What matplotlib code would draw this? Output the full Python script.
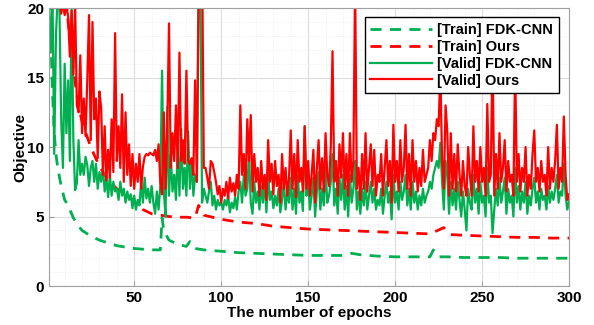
import matplotlib
matplotlib.use("Agg")
import matplotlib.pyplot as plt
from matplotlib.ticker import MultipleLocator

# validation objective per epoch (epochs 1..300)
valid_ours = [
    26, 25, 24, 23, 24, 22, 21, 19.6, 20.4, 19.5,
    20.2, 19.4, 16.5, 19.8, 15.2, 20.5, 13.0, 12.5, 16.6, 11.0,
    13.5, 10.8, 14.8, 19.5, 10.5, 19.0, 12.0, 13.5, 9.2, 14.0,
    12.8, 8.0, 11.5, 7.6, 9.8, 7.8, 12.0, 8.2, 18.2, 9.0,
    11.5, 8.5, 13.8, 7.5, 12.5, 8.0, 10.2, 7.2, 9.5, 7.0,
    8.8, 7.5, 9.5, 7.0, 8.6, 9.3, 9.5, 9.4, 9.6, 9.5,
    9.4, 9.8, 9.0, 10.2, 7.5, 6.6, 12.5, 7.0, 11.5, 18.9,
    8.5, 11.0, 9.0, 13.0, 8.5, 16.8, 9.0, 10.5, 8.8, 15.5,
    9.0, 8.8, 9.2, 8.0, 14.8, 7.5, 20.5, 24.0, 24.0, 8.5,
    8.5, 7.8, 7.0, 9.0, 8.8, 8.2, 7.5, 6.6, 7.2, 6.0,
    7.0, 6.5, 7.5, 6.3, 7.8, 6.8, 7.4, 6.5, 8.0, 7.0,
    13.0, 8.0, 9.5, 7.0, 12.0, 9.0, 12.3, 6.8, 9.5, 7.5,
    8.5, 6.5, 9.0, 7.0, 8.0, 6.2, 10.5, 7.5, 8.8, 6.6,
    9.0, 7.2, 8.0, 6.0, 9.5, 7.0, 8.5, 6.5, 7.8, 11.2,
    7.0, 9.5, 6.4, 10.5, 7.5, 8.5, 6.8, 11.5, 7.0, 9.0,
    6.5, 8.0, 9.8, 6.0, 8.5, 10.5, 7.0, 9.2, 6.8, 11.0,
    8.0, 7.2, 10.0, 16.9, 7.5, 9.0, 6.5, 10.2, 7.8, 11.0,
    7.0, 9.5, 6.5, 11.0, 7.5, 9.0, 22.0, 7.0, 8.5, 6.2,
    9.5, 7.0, 11.0, 6.8, 8.5, 10.2, 7.2, 9.8, 6.5, 8.0,
    7.5, 9.5, 6.5, 8.5, 10.5, 7.2, 9.0, 6.0, 11.6, 7.5,
    9.0, 6.8, 10.5, 7.5, 8.5, 11.6, 7.0, 9.5, 6.5, 10.5,
    7.5, 9.0, 6.8, 8.5, 7.2, 9.8, 7.5, 8.0, 8.5, 10.5,
    9.0, 11.0, 10.5, 12.0, 11.5, 15.5, 9.0, 7.0, 13.0, 11.1,
    6.5, 11.0, 7.0, 9.5, 6.8, 10.2, 8.0, 6.5, 9.0, 7.2,
    6.5, 10.0, 8.0, 6.5, 11.5, 7.5, 9.0, 6.8, 10.0, 7.5,
    8.5, 6.5, 13.1, 7.5, 8.0, 17.0, 6.5, 9.5, 7.0, 11.0,
    7.5, 8.5, 10.5, 6.8, 9.0, 7.5, 8.0, 6.5, 16.0, 7.5,
    9.5, 6.8, 8.5, 7.5, 10.0, 6.5, 8.0, 7.0, 9.5, 11.2,
    7.5, 8.5, 6.8, 9.0, 7.5, 8.0, 6.5, 10.0, 7.0, 8.5,
    7.5, 9.0, 11.6, 7.0, 8.5, 7.5, 12.2, 8.0, 6.2, 6.6,
]
valid_fdk = [
    20.5, 16.8, 21, 9.5, 18, 21, 20, 12, 8.5, 16,
    11, 14.8, 9, 20.3, 10.5, 6.9, 7.4, 10.5, 8.0, 8.8,
    8.0, 9.3, 8.7, 7.2, 8.5, 9.0, 7.5, 8.8, 7.0, 8.2,
    7.5, 8.5, 6.8, 7.8, 6.4, 8.0, 6.5, 7.5, 6.8, 7.0,
    6.2, 7.5, 6.5, 7.0, 6.0, 6.8, 6.2, 6.6, 5.6, 6.5,
    5.5, 6.2, 5.8, 7.5, 6.0, 7.8, 6.3, 7.0, 6.0, 7.2,
    6.0, 5.2, 6.8, 5.5, 7.2, 15.5, 6.8, 5.0, 12.9, 6.5,
    9.5, 6.8, 8.0, 6.2, 10.0, 6.5, 11.3, 7.0, 8.5, 6.5,
    11.1, 7.0, 9.0, 6.5, 8.0, 7.5, 23.0, 22.0, 6.0, 7.0,
    6.5, 6.0, 6.8, 7.5, 5.8, 6.5, 5.5, 6.2, 5.8, 6.0,
    5.5, 6.2, 5.8, 6.5, 5.3, 6.0, 5.6, 6.4, 5.5, 6.8,
    7.5, 6.0, 8.0, 6.5, 7.0, 9.5, 6.0, 5.2, 7.5, 6.0,
    6.8, 5.5, 7.2, 6.0, 7.5, 5.3, 8.0, 6.2, 6.8, 5.6,
    6.5, 5.8, 7.0, 5.3, 6.2, 7.5, 5.5, 6.8, 6.0, 7.8,
    5.5, 7.0, 5.2, 8.0, 6.0, 6.8, 5.4, 11.5, 6.5, 7.5,
    5.5, 6.5, 7.8, 5.0, 6.8, 8.2, 5.5, 7.0, 5.8, 8.5,
    6.0, 6.5, 7.5, 9.5, 5.8, 7.0, 5.2, 7.8, 6.2, 8.0,
    5.5, 7.2, 5.0, 8.0, 6.0, 7.0, 9.0, 5.5, 6.8, 5.2,
    7.0, 5.8, 7.5, 5.5, 6.5, 7.5, 6.0, 7.0, 5.5, 6.2,
    5.8, 7.0, 5.2, 6.5, 7.5, 6.0, 6.8, 4.8, 8.0, 6.0,
    6.8, 5.5, 7.5, 6.2, 6.8, 8.0, 5.8, 7.0, 5.5, 7.5,
    6.0, 6.8, 5.5, 6.5, 5.8, 7.0, 6.0, 6.5, 6.8, 7.5,
    7.0, 8.0, 8.5, 9.0, 8.5, 10.3, 7.5, 5.5, 9.0, 8.0,
    5.2, 7.5, 5.8, 7.0, 5.5, 7.5, 6.2, 5.0, 6.8, 5.5,
    4.0, 7.0, 6.0, 5.5, 8.0, 6.0, 7.0, 5.2, 7.5, 6.0,
    6.5, 5.0, 8.5, 6.0, 6.5, 3.8, 5.5, 7.0, 5.8, 7.8,
    6.0, 6.8, 7.8, 5.2, 7.0, 6.0, 6.5, 5.0, 8.5, 6.0,
    7.2, 5.5, 6.8, 6.0, 7.5, 5.2, 6.5, 5.8, 7.0, 7.8,
    6.0, 6.8, 5.5, 7.0, 6.2, 6.5, 5.5, 7.2, 6.0, 6.8,
    6.2, 7.0, 8.0, 6.0, 6.8, 6.5, 8.8, 6.5, 5.5, 6.1,
]
valid_epochs = list(range(1, len(valid_ours) + 1))

# training objective, read at selected epochs
train_fdk_epochs = [1, 2, 3, 4, 5, 6, 8, 10, 12, 15, 18, 20, 25, 30, 35, 40, 45, 50,
                    55, 60, 65, 66, 67, 70, 75, 80, 82, 85, 90, 100, 110, 120, 130,
                    140, 150, 160, 170, 175, 180, 190, 200, 210, 220, 222, 225, 230,
                    240, 250, 260, 270, 280, 290, 300]
train_fdk = [22, 18, 14, 11, 9.5, 8.5, 7.2, 6.2, 5.8, 4.9, 4.3, 4.0, 3.6, 3.3, 3.1, 2.9,
             2.8, 2.7, 2.65, 2.6, 2.6, 4.9, 4.0, 3.3, 3.0, 2.85, 3.2, 2.7, 2.6, 2.5, 2.4,
             2.35, 2.3, 2.25, 2.2, 2.2, 2.2, 2.35, 2.25, 2.15, 2.1, 2.1, 2.1, 2.6, 2.1,
             2.1, 2.05, 2.05, 2.05, 2.0, 2.0, 2.0, 2.0]
train_ours_epochs = [1, 5, 10, 12, 15, 18, 20, 25, 30, 35, 40, 45, 50, 55, 60, 65, 70,
                     75, 80, 85, 87, 90, 100, 110, 120, 130, 140, 150, 160, 170, 180,
                     190, 200, 210, 220, 228, 232, 240, 250, 260, 270, 280, 290, 300]
train_ours = [35, 28, 22, 19, 15.5, 13, 11.8, 10, 8.6, 7.6, 7.0, 6.6, 6.1, 5.5, 5.2,
              5.1, 5.0, 4.95, 4.95, 4.9, 5.8, 5.1, 4.8, 4.6, 4.5, 4.3, 4.2, 4.1, 4.05,
              4.0, 3.95, 3.9, 3.85, 3.8, 3.75, 4.2, 3.7, 3.65, 3.6, 3.55, 3.5, 3.5,
              3.45, 3.45]

GREEN = "#00b050"
RED = "#ff0000"

plt.rcParams["font.family"] = ["Liberation Sans", "DejaVu Sans"]
plt.rcParams["font.weight"] = "bold"

fig = plt.figure(figsize=(5.94, 3.25), dpi=100)
ax = fig.add_axes([0.0825, 0.12, 0.8755, 0.855])

ax.plot(train_fdk_epochs, train_fdk, color=GREEN, lw=2, ls=(0, (4, 3)), label="[Train] FDK-CNN")
ax.plot(train_ours_epochs, train_ours, color=RED, lw=2, ls=(0, (4, 3)), label="[Train] Ours")
ax.plot(valid_epochs, valid_fdk, color=GREEN, lw=1.6, label="[Valid] FDK-CNN")
ax.plot(valid_epochs, valid_ours, color=RED, lw=1.6, label="[Valid] Ours")

ax.set_xlim(1, 300)
ax.set_ylim(0, 20)
ax.xaxis.set_major_locator(MultipleLocator(50))
ax.xaxis.set_minor_locator(MultipleLocator(10))
ax.yaxis.set_major_locator(MultipleLocator(5))
ax.yaxis.set_minor_locator(MultipleLocator(1))
ax.grid(which="major", color="#dcdcdc", lw=0.8)
ax.grid(which="minor", color="#ececec", lw=0.6, ls=":")
ax.set_axisbelow(True)
ax.tick_params(which="both", direction="in", labelsize=11, color="#a0a0a0")
ax.tick_params(which="minor", length=0)
for s in ax.spines.values():
    s.set_color("#a0a0a0")
for lab in ax.get_xticklabels() + ax.get_yticklabels():
    lab.set_fontweight("bold")

ax.set_xlabel("The number of epochs", fontsize=11, fontweight="bold", labelpad=1)
ax.set_ylabel("Objective", fontsize=11, fontweight="bold", labelpad=0)

leg = ax.legend(loc="upper right", bbox_to_anchor=(0.981, 0.968), borderaxespad=0,
                prop={"weight": "bold", "size": 10.5}, handlelength=4.2,
                labelspacing=0.2, handletextpad=0.4, borderpad=0.4,
                fancybox=False, framealpha=1, edgecolor="black")
leg.get_frame().set_linewidth(1.0)

fig.savefig("out.png", dpi=100)
